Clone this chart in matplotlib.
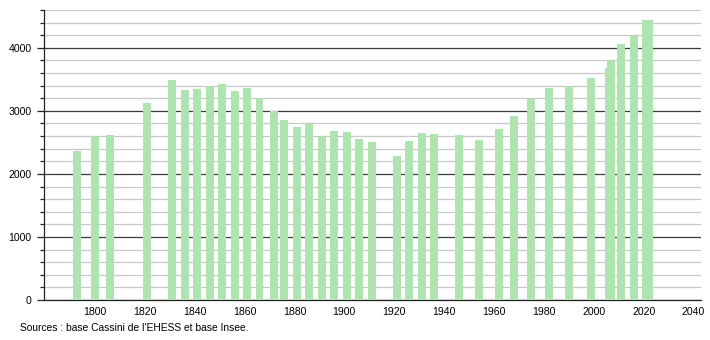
import matplotlib
matplotlib.use("Agg")
import matplotlib.pyplot as plt
from matplotlib.ticker import MultipleLocator

years = [1793, 1800, 1806, 1821, 1831, 1836, 1841, 1846, 1851, 1856, 1861, 1866,
         1872, 1876, 1881, 1886, 1891, 1896, 1901, 1906, 1911, 1921, 1926, 1931,
         1936, 1946, 1954, 1962, 1968, 1975, 1982, 1990, 1999, 2006, 2007, 2011,
         2016, 2021, 2022]
population = [2370, 2608, 2624, 3132, 3497, 3338, 3354, 3390, 3433, 3322, 3370, 3211,
              2994, 2849, 2751, 2798, 2581, 2687, 2671, 2560, 2513, 2290, 2528, 2655,
              2629, 2624, 2544, 2719, 2925, 3190, 3370, 3402, 3529, 3687, 3798, 4068,
              4191, 4434, 4434]
source_text = "Sources : base Cassini de l'EHESS et base Insee."

plt.rcParams['font.family'] = ['Liberation Sans', 'DejaVu Sans']

fig = plt.figure(figsize=(7.1, 3.4), dpi=100)
ax = fig.add_axes([44/710, 40/340, (701-44)/710, (300-10)/340])

ax.bar(years, population, width=3.2, color='#afe3af', zorder=3, linewidth=0)

ax.set_xlim(1779.6, 2043.0)
ax.set_ylim(0, 4600)
ax.yaxis.set_major_locator(MultipleLocator(1000))
ax.yaxis.set_minor_locator(MultipleLocator(200))
ax.set_xticks(range(1800, 2041, 20))

ax.grid(axis='y', which='minor', color='#c8c8c8', linewidth=0.9, zorder=1)
ax.grid(axis='y', which='major', color='#3a3a3a', linewidth=0.9, zorder=2)

for s in ['top', 'right']:
    ax.spines[s].set_visible(False)
ax.spines['left'].set_color('#222222')
ax.spines['bottom'].set_color('#222222')
ax.spines['left'].set_linewidth(0.9)
ax.spines['bottom'].set_linewidth(0.9)

ax.tick_params(axis='y', which='major', length=5, width=0.9, pad=4, labelsize=7.6, color='#222222')
ax.tick_params(axis='y', which='minor', length=3, width=0.9, color='#222222')
ax.tick_params(axis='x', which='both', length=0, pad=5, labelsize=7.6)

fig.text(20/710, 1 - 328/340, source_text, fontsize=7.35, va='center', ha='left')

fig.savefig('out.png', dpi=100)
